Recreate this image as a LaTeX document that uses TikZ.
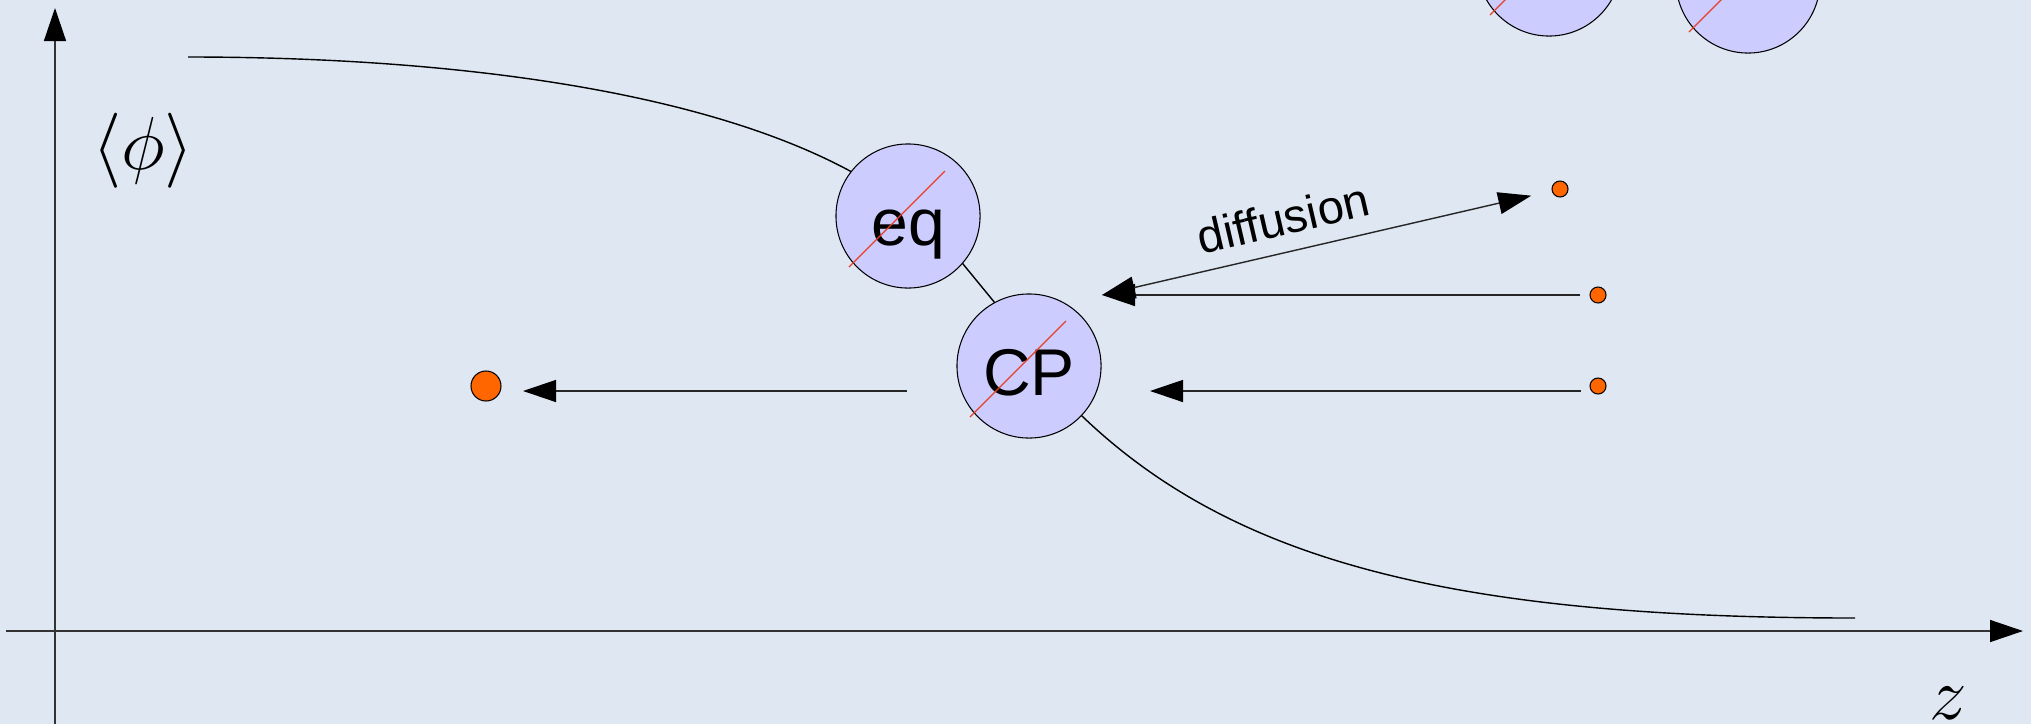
\documentclass[tikz,border=0pt]{standalone}
\usepackage{fontspec}
\setmainfont{Liberation Sans}
\usetikzlibrary{arrows, arrows.meta, positioning, shapes}
\definecolor{my_bg}{RGB}{223, 231, 242}
\definecolor{my_lavender}{RGB}{204, 204, 255}
\definecolor{my_orange}{RGB}{255, 102, 0}
\definecolor{my_red}{RGB}{232, 64, 40}
\tikzset {
  phase/.style = {draw, circle, fill=my_lavender, line width=0.3pt, minimum size=1.44cm, inner sep=0pt, font=\fontsize{18.8}{22}\selectfont, text height=18.5pt, text depth=2pt},
  particle/.style = {draw, circle, fill=my_orange, line width=0.3pt, minimum size=0.16cm, inner sep=0pt},
  bigparticle/.style = {particle, minimum size=0.3cm},
  strike/.style = {draw=my_red, line width=0.35pt},
  axis/.style = {->, line width=0.4pt, color=black!80},
  line/.style = {->, line width=0.4pt, color=black!85},
  profile/.style = {line width=0.4pt, color=black},
  mathlabel/.style = {font=\huge, inner sep=0pt, scale=1.03}
}

\begin{document}
\begin{tikzpicture}[x=0.01cm, y=-0.01cm, >={Triangle[length=0.33cm, width=0.22cm, black]}]

    \fill[my_bg] (0,0) rectangle (2031,724);
    \useasboundingbox (0,0) rectangle (2031,724);
    \clip (0,0) rectangle (2031,724);

    % axes
    \draw[axis] (55,724) -- (55,8);
    \draw[axis] (6,631) -- (2023,631);
    \node[mathlabel, name=phi] (phi) at (143,151) {$\langle\phi\rangle$};
    \node[mathlabel, anchor=base, name=zlabel] (zlabel) at (1948,719) {$z$};

    % order parameter profile
    \draw[profile] (188,57) .. controls (450,57) and (700,90) .. (850,171)
        .. controls (900,198) and (940,235) .. (963,264) -- (995,303)
        .. controls (1030,345) and (1060,395) .. (1083,417)
        .. controls (1233,560) and (1450,618) .. (1855,618);

    \node[phase, name=eq] (eq) at (908,216) {eq};
    \node[phase, name=cp] (cp) at (1029,366) {CP};
    \node[phase, name=s1] (s1) at (1549,-36) {};
    \node[phase, name=s2] (s2) at (1748,-19) {};
    \foreach \n in {eq, cp, s1, s2}
        \draw[strike] ([xshift=-16.8pt, yshift=-14.5pt]\n.center) -- ++(27.3pt,27.3pt);

    \node[particle, name=d1] (d1) at (1560,189) {};
    \node[particle, name=d2] (d2) at (1598,295) {};
    \node[particle, name=d3] (d3) at (1598,386) {};
    \node[bigparticle, name=big] (big) at (486,386) {};

    \coordinate (tipA) at (1102,295);
    \coordinate (tailB) at (1581,391);
    \coordinate (tipB) at (1150,391);
    \coordinate (tailC) at (907,391);
    \coordinate (tipC) at (523,391);

    \draw[line, shorten <=0.09cm] (d2) -- (tipA);
    \draw[line, <->, shorten >=0.21cm] (tipA) -- (d1)
        node[pos=0.42, sloped, above=2.5pt, inner sep=2pt, text=black, font=\fontsize{13.4}{16}\selectfont] {diffusion};
    \draw[line] (tailB) -- (tipB);
    \draw[line] (tailC) -- (tipC);

\end{tikzpicture}
\end{document}
